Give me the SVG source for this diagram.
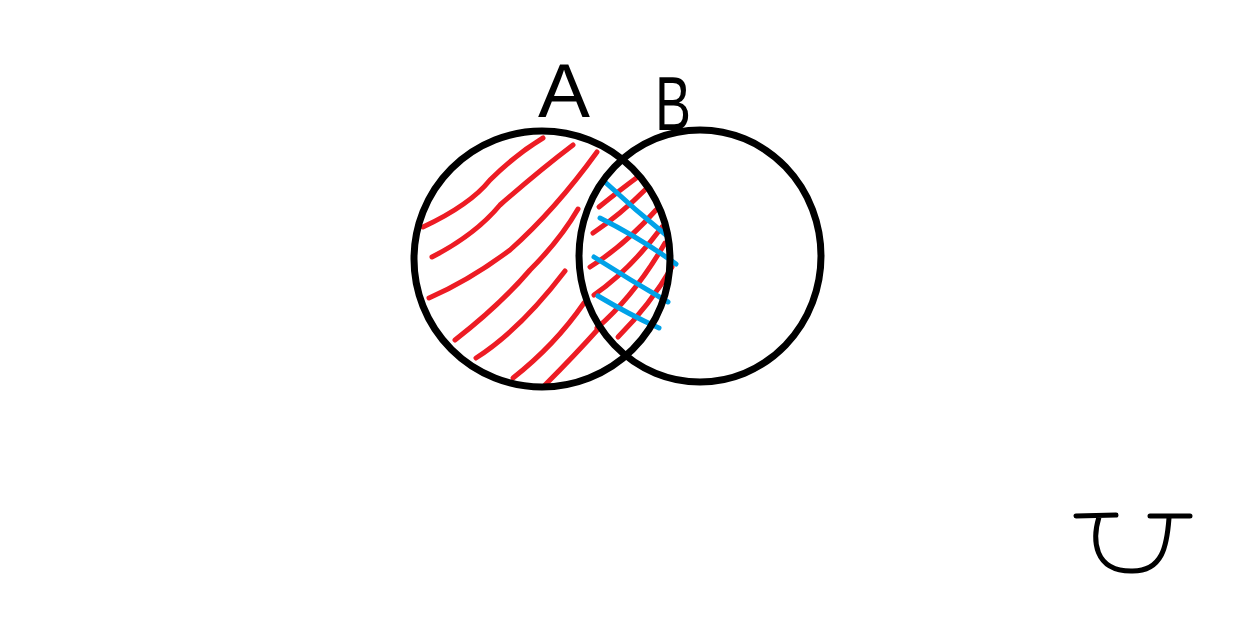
<svg xmlns="http://www.w3.org/2000/svg" width="1256" height="636" viewBox="0 0 1256 636">
<style>
.ink{fill:none;stroke:#000;stroke-width:7;stroke-linecap:round;stroke-linejoin:round}
.thin{stroke-width:5}
.red{fill:none;stroke:#ED1C24;stroke-width:5;stroke-linecap:round}
.blue{fill:none;stroke:#00A2E8;stroke-width:5;stroke-linecap:round}
.lbl{font-family:"Liberation Sans",Arial,sans-serif;font-size:76px;fill:#000}
</style>
<rect width="1256" height="636" fill="#fff"/>
<g id="hatch-red">
<path class="red" d="M423,227 Q470,205 490,180 Q515,155 543,138"/>
<path class="red" d="M432,257 Q475,235 500,205 Q540,170 573,145"/>
<path class="red" d="M429,298 Q470,280 510,250 Q555,210 597,152"/>
<path class="red" d="M455,340 Q500,305 530,270 Q560,240 578,209"/>
<path class="red" d="M476,358 Q520,330 565,271"/>
<path class="red" d="M513,378 Q555,345 584,303"/>
<path class="red" d="M545,385 Q575,355 600,327"/>
<path class="red" d="M599,207 Q620,190 639,176"/>
<path class="red" d="M593,233 Q620,215 647,188"/>
<path class="red" d="M590,267 Q625,245 656,210"/>
<path class="red" d="M594,295 Q630,270 662,227"/>
<path class="red" d="M597,328 Q635,295 665,243"/>
<path class="red" d="M618,337 Q650,305 672,267"/>
</g>
<g id="hatch-blue">
<path class="blue" d="M605,182 Q635,210 666,235"/>
<path class="blue" d="M600,218 Q640,238 676,264"/>
<path class="blue" d="M594,257 Q630,280 668,302"/>
<path class="blue" d="M598,296 Q630,315 659,328"/>
</g>
<g id="set-A">
<ellipse class="ink" cx="542" cy="259" rx="128" ry="128"/>
<text class="lbl" x="538" y="117" textLength="52" lengthAdjust="spacingAndGlyphs">A</text>
</g>
<g id="set-B">
<ellipse class="ink" cx="700" cy="256" rx="121" ry="126"/>
<text class="lbl" x="655" y="130" textLength="36" lengthAdjust="spacingAndGlyphs">B</text>
</g>
<g id="union-symbol">
<path class="ink thin" d="M1076,516 L1116,515 M1150,516 L1190,516 M1099,517 C1092,540 1094,571 1131,571 C1163,572 1167,545 1169,518"/>
</g>
</svg>
